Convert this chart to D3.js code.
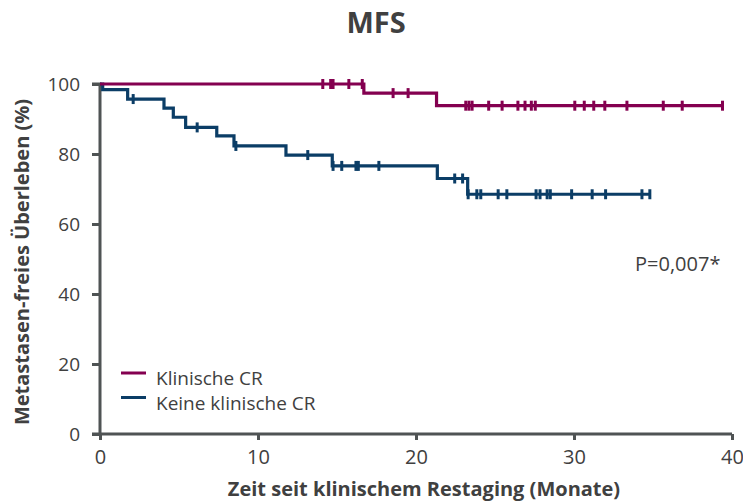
<!DOCTYPE html>
<html>
<head>
<meta charset="utf-8">
<script src="https://cdn.jsdelivr.net/npm/d3@7"></script>
<style>
  body { margin: 0; background: #fff; }
  svg { display: block; font-family: "Open Sans", sans-serif; }
</style>
</head>
<body>
<svg id="viz" width="743" height="501"></svg>
<script>
// Kaplan-Meier steps (months, percent)
var crEventTimes = [0, 16.7, 21.3];
var crSurv = [100, 97.4, 93.8];
var crEnd = 39.4;
var crCensor = [14.1, 14.6, 14.75, 15.75, 16.6, 18.55, 19.5, 23.15, 23.35, 23.55, 24.6,
                25.45, 26.45, 26.9, 27.3, 27.55, 30.05, 30.65, 31.25, 31.95, 33.35, 35.65, 36.85, 39.4];

var noCrEventTimes = [0, 0.17, 1.75, 4.05, 4.64, 5.42, 7.39, 8.48, 11.77, 14.7, 21.35, 23.27];
var noCrSurv = [100, 98.4, 95.7, 93.1, 90.5, 87.6, 85.2, 82.3, 79.7, 76.6, 73.0, 68.5];
var noCrEnd = 34.8;
var noCrCensor = [2.1, 6.15, 8.6, 13.15, 14.75, 15.3, 16.2, 16.35, 17.65, 22.45, 22.95, 23.3,
                  23.85, 24.1, 25.2, 25.75, 27.6, 27.85, 28.3, 28.5, 29.85, 31.15, 32.0, 34.3, 34.8];

var groups = ["Klinische CR", "Keine klinische CR"];
var colors = ["#840050", "#0b3d66"];
var xTicks = [0, 10, 20, 30, 40];
var yTicks = [0, 20, 40, 60, 80, 100];

var svg = d3.select("#viz");
var axisColor = "#4f5354";
var textColor = "#404040";

var x = d3.scaleLinear().domain([0, 40]).range([100, 732]);
var y = d3.scaleLinear().domain([0, 100]).range([434, 84]);

// step value at time t
function survAt(times, surv, t) {
    var v = surv[0];
    for (var i = 0; i < times.length; i++) {
        if (times[i] <= t) v = surv[i];
    }
    return v;
}

function stepPoints(times, surv, end) {
    var pts = times.map((t, i) => [t, surv[i]]);
    pts.push([end, surv[surv.length - 1]]);
    return pts;
}

var line = d3.line()
    .x(d => x(d[0]))
    .y(d => y(d[1]))
    .curve(d3.curveStepAfter);

var series = [
    {times: crEventTimes, surv: crSurv, end: crEnd, censor: crCensor, color: colors[0]},
    {times: noCrEventTimes, surv: noCrSurv, end: noCrEnd, censor: noCrCensor, color: colors[1]}
];

// axes
var yAxis = svg.append("g")
    .attr("transform", "translate(100,0)")
    .call(d3.axisLeft(y).tickValues(yTicks).tickSize(8).tickPadding(12));
var xAxis = svg.append("g")
    .attr("transform", "translate(0,434)")
    .call(d3.axisBottom(x).tickValues(xTicks).tickSize(6).tickPadding(10));

[yAxis, xAxis].forEach(function(g) {
    g.select(".domain").attr("stroke", axisColor).attr("stroke-width", 3);
    g.selectAll(".tick line").attr("stroke", axisColor).attr("stroke-width", 3);
    g.selectAll(".tick text")
        .attr("fill", textColor)
        .style("font-family", "'Open Sans', sans-serif");
});
yAxis.selectAll(".tick text").style("font-size", "19px");
xAxis.selectAll(".tick text").style("font-size", "20px");
yAxis.select(".domain").attr("d", "M-8," + y(100) + "H0V" + y(0) + "H-8");
xAxis.select(".domain").attr("d", "M" + x(0) + ",0H" + x(40));

// curves + censor marks
series.slice().reverse().forEach(function(s) {
    svg.append("path")
        .datum(stepPoints(s.times, s.surv, s.end))
        .attr("d", line)
        .attr("fill", "none")
        .attr("stroke", s.color)
        .attr("stroke-width", 3.2);

    svg.append("g").selectAll("line")
        .data(s.censor)
        .enter()
        .append("line")
        .attr("x1", d => x(d))
        .attr("x2", d => x(d))
        .attr("y1", d => y(survAt(s.times, s.surv, d)) - 5)
        .attr("y2", d => y(survAt(s.times, s.surv, d)) + 5)
        .attr("stroke", s.color)
        .attr("stroke-width", 3);
});

// title
svg.append("text")
    .attr("x", 376).attr("y", 33)
    .attr("text-anchor", "middle")
    .attr("fill", textColor)
    .style("font-size", "29px")
    .style("font-weight", "bold")
    .text("MFS");

// axis titles
svg.append("text")
    .attr("transform", "translate(29,262) rotate(-90)")
    .attr("text-anchor", "middle")
    .attr("fill", textColor)
    .style("font-size", "20px")
    .style("font-weight", "bold")
    .text("Metastasen-freies Überleben (%)");

svg.append("text")
    .attr("x", 424).attr("y", 496)
    .attr("text-anchor", "middle")
    .attr("fill", textColor)
    .style("font-size", "20px")
    .style("font-weight", "bold")
    .text("Zeit seit klinischem Restaging (Monate)");

// p-value
svg.append("text")
    .attr("x", 635).attr("y", 271)
    .attr("fill", textColor)
    .style("font-size", "20px")
    .text("P=0,007*");

// legend
var legendLineY = [373, 397.5];
var legendTextY = [385, 410];
var legend = svg.append("g").selectAll("g")
    .data(groups)
    .enter()
    .append("g");
legend.append("line")
    .attr("x1", 121).attr("x2", 146)
    .attr("y1", (d, i) => legendLineY[i])
    .attr("y2", (d, i) => legendLineY[i])
    .attr("stroke", (d, i) => colors[i])
    .attr("stroke-width", 3);
legend.append("text")
    .attr("x", 156)
    .attr("y", (d, i) => legendTextY[i])
    .attr("fill", textColor)
    .style("font-size", "19px")
    .text(d => d);
</script>
</body>
</html>
